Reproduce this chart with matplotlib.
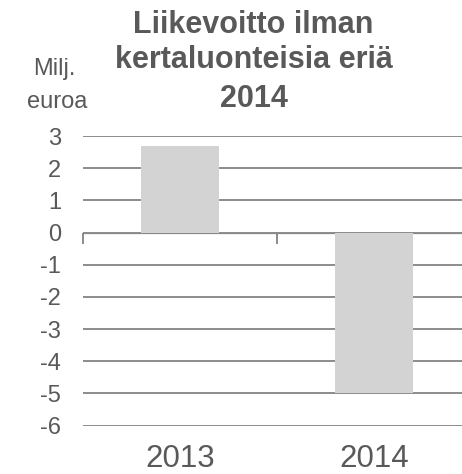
import matplotlib.pyplot as plt

plt.rcParams['font.family'] = ['Liberation Sans', 'DejaVu Sans']

# data
years = ['2013', '2014']
values = [2.7, -5.0]
yticks = [3, 2, 1, 0, -1, -2, -3, -4, -5, -6]

text_col = '#595959'
grid_col = '#8c8c8c'
bar_col = '#d4d3d4'

fig = plt.figure(figsize=(4.62, 4.74), dpi=100)
ax = fig.add_axes([0.18, 0.102, 0.84, 0.611])

x = list(range(len(years)))
ax.bar(x, values, width=0.4, color=bar_col, zorder=3)

ax.set_xlim(-0.5, 1.5)
ax.set_ylim(-6, 3)
ax.set_yticks(yticks)
ax.set_yticklabels([str(t) for t in yticks])
ax.yaxis.grid(True, color=grid_col, linewidth=1.4)
ax.set_axisbelow(True)
ax.tick_params(axis='y', length=0, pad=16, labelsize=17, labelcolor=text_col)

ax.set_xticks(x)
ax.set_xticklabels(years)
ax.tick_params(axis='x', length=0, pad=13.5, labelsize=22.5, labelcolor=text_col)

for s in ax.spines.values():
    s.set_visible(False)

# zero line with category boundary ticks
zero_frac = (0 - (-6)) / (3 - (-6))
sec = ax.secondary_xaxis(zero_frac)
sec.set_xticks([-0.5, 0.5, 1.5])
sec.set_xticklabels([])
sec.tick_params(axis='x', direction='in', length=8, width=1.4, color=grid_col)
sec.spines['bottom'].set_color(grid_col)
sec.spines['bottom'].set_linewidth(1.4)

title_lines = ['Liikevoitto ilman', 'kertaluonteisia eriä', '2014']
for line, yb in zip(title_lines, [0.930, 0.857, 0.774]):
    fig.text(0.549, yb, line, ha='center', va='baseline',
             fontsize=22, fontweight='bold', color=text_col)

fig.text(0.118, 0.842, 'Milj.', ha='center', va='baseline', fontsize=17, color=text_col)
fig.text(0.123, 0.772, 'euroa', ha='center', va='baseline', fontsize=17, color=text_col)

fig.savefig('out.png', dpi=100)
